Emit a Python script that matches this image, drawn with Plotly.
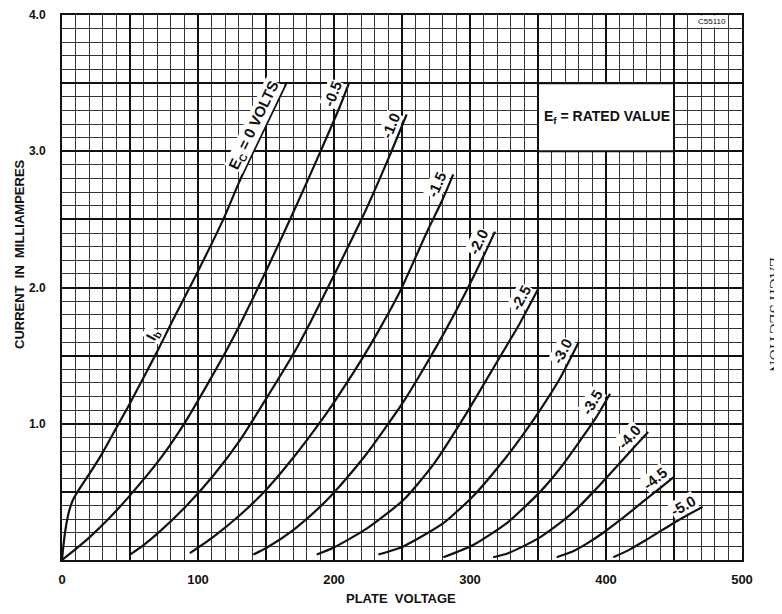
import math
import plotly.graph_objects as go

# ---- data (plate voltage V, plate current mA) ----
grid_volts = ["0", "-0.5", "-1.0", "-1.5", "-2.0", "-2.5", "-3.0", "-3.5", "-4.0", "-4.5", "-5.0"]
curve_labels = ["E<sub>C</sub> = 0 VOLTS", "-0.5", "-1.0", "-1.5", "-2.0", "-2.5",
                "-3.0", "-3.5", "-4.0", "-4.5", "-5.0"]

ec00_v = [0, 1, 2.5, 5, 8, 12, 20, 30, 40, 50, 60, 70, 82, 99, 118.6, 131, 150.5, 165]
ec00_i = [0, 0.10, 0.22, 0.35, 0.44, 0.51, 0.63, 0.79, 0.97, 1.15, 1.34, 1.53, 1.77, 2.10, 2.50, 2.79, 3.20, 3.50]

ec05_v = [0, 10, 20.6, 35, 50.5, 72, 89.2, 106.4, 121, 131, 150.5, 170, 189.7, 204.4, 211]
ec05_i = [0, 0.08, 0.17, 0.31, 0.48, 0.74, 0.99, 1.28, 1.54, 1.73, 2.13, 2.55, 2.99, 3.33, 3.50]

ec10_v = [50, 60, 72, 91.7, 111.3, 130.9, 150.5, 170, 182.4, 199.5, 221.6, 241, 253.4]
ec10_i = [0.04, 0.11, 0.21, 0.40, 0.62, 0.88, 1.19, 1.51, 1.74, 2.08, 2.53, 2.97, 3.27]

ec15_v = [94, 111.3, 130.9, 150.5, 170, 189.7, 199.5, 219, 233.8, 248.5, 268, 280, 287.7]
ec15_i = [0.05, 0.17, 0.33, 0.52, 0.75, 1.01, 1.15, 1.45, 1.70, 1.97, 2.40, 2.65, 2.83]

ec20_v = [140.7, 150.5, 170, 189.7, 199.5, 224, 251, 268, 282.8, 297.6, 312.3, 318.4]
ec20_i = [0.04, 0.09, 0.22, 0.39, 0.49, 0.78, 1.16, 1.44, 1.70, 1.98, 2.28, 2.41]

ec25_v = [187.3, 199.5, 224, 251, 273, 297.6, 319.6, 336.8, 350.2]
ec25_i = [0.04, 0.09, 0.23, 0.44, 0.70, 1.08, 1.45, 1.74, 1.99]

ec30_v = [232.6, 251, 280.4, 302.4, 327, 339, 351.5, 366, 380]
ec30_i = [0.04, 0.10, 0.27, 0.47, 0.76, 0.92, 1.10, 1.33, 1.60]

ec35_v = [280.4, 302.4, 327, 351.5, 366, 378.4, 393, 403]
ec35_i = [0.02, 0.11, 0.27, 0.50, 0.67, 0.84, 1.05, 1.22]

ec40_v = [317, 328, 339, 352, 366, 378, 390.7, 410, 420, 431]
ec40_i = [0.02, 0.05, 0.10, 0.17, 0.27, 0.37, 0.50, 0.71, 0.82, 0.94]

ec45_v = [363.7, 375, 385.8, 398, 410, 430, 440, 450]
ec45_i = [0.02, 0.06, 0.12, 0.20, 0.29, 0.45, 0.53, 0.61]

ec50_v = [405.4, 418, 430, 449.5, 460, 471]
ec50_i = [0.02, 0.08, 0.15, 0.27, 0.33, 0.39]

x_tickvals = [0, 50, 100, 150, 200, 250, 300, 350, 400, 450, 500]
x_ticktext = ["0", "", "100", "", "200", "", "300", "", "400", "", "500"]
y_tickvals = [0, 0.5, 1.0, 1.5, 2.0, 2.5, 3.0, 3.5, 4.0]
y_ticktext = ["", "", "1.0", "", "2.0", "", "3.0", "", "4.0"]

curves = [
    (ec00_v, ec00_i), (ec05_v, ec05_i), (ec10_v, ec10_i), (ec15_v, ec15_i),
    (ec20_v, ec20_i), (ec25_v, ec25_i), (ec30_v, ec30_i), (ec35_v, ec35_i),
    (ec40_v, ec40_i), (ec45_v, ec45_i), (ec50_v, ec50_i),
]

FONT = "Liberation Sans"
INK = "#111111"
PLOT_W, PLOT_H = 680, 545
X_RANGE, Y_RANGE = (0, 500), (0, 4.0)
PX_PER_V = PLOT_W / (X_RANGE[1] - X_RANGE[0])
PX_PER_MA = PLOT_H / (Y_RANGE[1] - Y_RANGE[0])

fig = go.Figure()
for (v, i), name in zip(curves, grid_volts):
    fig.add_trace(go.Scatter(
        x=v, y=i, mode="lines", name=name,
        line=dict(color=INK, width=2.2, shape="spline", smoothing=0.6),
        hoverinfo="x+y", showlegend=False,
    ))


def point_back(v, i, length_px):
    """Walk back along the curve from its end by length_px (screen px); return data point."""
    remaining = length_px
    for k in range(len(v) - 1, 0, -1):
        dx = (v[k] - v[k - 1]) * PX_PER_V
        dy = (i[k] - i[k - 1]) * PX_PER_MA
        seg = math.hypot(dx, dy)
        if seg >= remaining:
            t = remaining / seg
            return v[k] - t * (v[k] - v[k - 1]), i[k] - t * (i[k] - i[k - 1])
        remaining -= seg
    return v[0], i[0]


# curve labels sit just above/left of each curve's upper end, parallel to it,
# lettered on a small white knock-out as on the drafted original
annotations = []
for (v, i), text in zip(curves, curve_labels):
    length = 104 if "VOLTS" in text else 32
    v0, i0 = point_back(v, i, length)
    dx = (v[-1] - v0) * PX_PER_V
    dy = (i[-1] - i0) * PX_PER_MA
    a = math.atan2(dy, dx)
    perp = 11
    annotations.append(dict(
        x=(v0 + v[-1]) / 2, y=(i0 + i[-1]) / 2, xref="x", yref="y",
        text="<b>" + text + "</b>", showarrow=False,
        textangle=-math.degrees(a), xanchor="center", yanchor="middle",
        xshift=-perp * math.sin(a), yshift=perp * math.cos(a),
        bgcolor="white", borderpad=0,
        font=dict(family=FONT, size=15, color=INK),
    ))

# "Ib" label beside the EC = 0 curve
ib_a = math.radians(62)
annotations.append(dict(
    x=74, y=1.62, xref="x", yref="y", text="<b>I<sub>b</sub></b>", showarrow=False,
    textangle=-62, xanchor="center", yanchor="middle",
    xshift=-11 * math.sin(ib_a), yshift=11 * math.cos(ib_a),
    bgcolor="white", borderpad=0,
    font=dict(family=FONT, size=15, color=INK),
))

annotations += [
    dict(x=400.5, y=3.25, xref="x", yref="y", text="<b>E<sub>f</sub> = RATED VALUE</b>",
         showarrow=False, font=dict(family=FONT, size=14, color=INK)),
    dict(x=478, y=3.95, xref="x", yref="y", text="C55110", showarrow=False,
         bgcolor="white", borderpad=1, font=dict(family=FONT, size=8, color=INK)),
    dict(x=-42 / PLOT_W, y=(560 - 254) / PLOT_H, xref="paper", yref="paper",
         xanchor="center", yanchor="middle",
         text="<b>CURRENT  IN  MILLIAMPERES</b>", textangle=-90, showarrow=False,
         font=dict(family=FONT, size=13, color=INK)),
    dict(x=339 / PLOT_W, y=-38 / PLOT_H, xref="paper", yref="paper",
         xanchor="center", yanchor="middle",
         text="<b>PLATE  VOLTAGE</b>", showarrow=False,
         font=dict(family=FONT, size=13, color=INK)),
    dict(x=(776 - 62) / PLOT_W, y=(560 - 315) / PLOT_H, xref="paper", yref="paper",
         xanchor="center", yanchor="middle",
         text="EACH SECTION", textangle=90, showarrow=False,
         font=dict(family="Liberation Serif", size=16, color="#222222")),
]

fig.add_shape(type="rect", x0=350, x1=450, y0=3.0, y1=3.5, xref="x", yref="y",
              fillcolor="white", line=dict(color=INK, width=2), layer="above")

# page body has an 8px default margin; figure is sized/margined to compensate
fig.update_layout(
    width=774, height=606,
    margin=dict(l=54, r=40, t=7, b=54, autoexpand=False),
    paper_bgcolor="white", plot_bgcolor="white",
    annotations=annotations,
    showlegend=False,
)
fig.update_xaxes(
    range=list(X_RANGE), tickmode="array", tickvals=x_tickvals, ticktext=x_ticktext,
    showgrid=True, gridcolor=INK, gridwidth=2,
    minor=dict(tickmode="linear", tick0=0, dtick=10, showgrid=True, gridcolor="#333333", gridwidth=1),
    showline=True, mirror=True, linecolor=INK, linewidth=2,
    ticks="", ticklabelstandoff=6, zeroline=False, automargin=False,
    tickfont=dict(family=FONT, size=13, color=INK, weight="bold"),
)
fig.update_yaxes(
    range=list(Y_RANGE), tickmode="array", tickvals=y_tickvals, ticktext=y_ticktext,
    showgrid=True, gridcolor=INK, gridwidth=2,
    minor=dict(tickmode="linear", tick0=0, dtick=0.1, showgrid=True, gridcolor="#333333", gridwidth=1),
    showline=True, mirror=True, linecolor=INK, linewidth=2,
    ticks="", ticklabelstandoff=12, zeroline=False, automargin=False,
    tickfont=dict(family=FONT, size=12, color=INK, weight="bold"),
)

fig.write_html("out.html")
